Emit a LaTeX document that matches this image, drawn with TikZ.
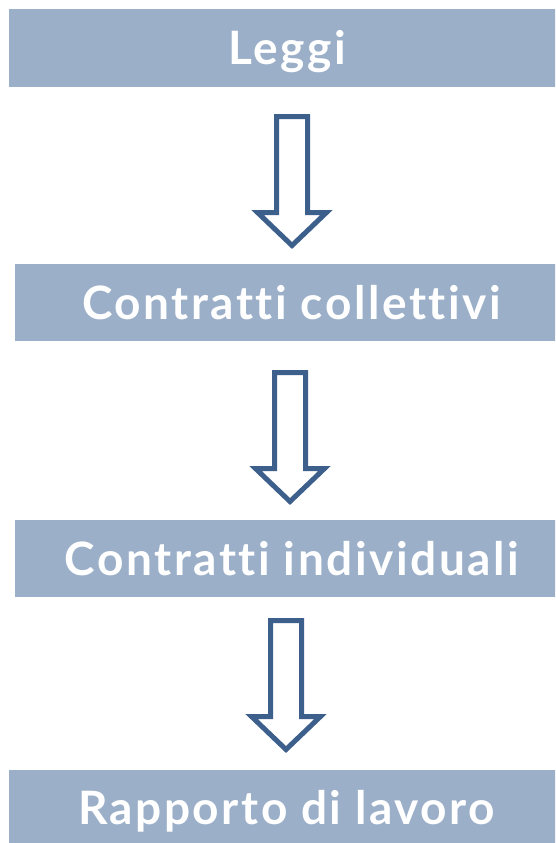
\documentclass[tikz,border=0pt]{standalone}
\usepackage{fontspec}
\setmainfont[Ligatures=NoCommon]{Lato}
\definecolor{boxblue}{RGB}{155,175,201}
\definecolor{arrowblue}{RGB}{60,95,140}
\tikzset{
  level/.style={fill=boxblue, text=white,
    font=\fontsize{46}{50}\selectfont\bfseries\addfontfeature{LetterSpace=5.5},
    inner sep=0pt, minimum height=77pt, text height=33pt, text depth=0pt},
  pics/downarrow/.style={code={
    \draw[arrowblue, line width=5pt, fill=white, line join=miter]
      (-15.5,0) -- (15.5,0) -- (15.5,96) -- (34.5,96) -- (0,129)
      -- (-34.5,96) -- (-15.5,96) -- cycle;
  }}
}
\begin{document}
\begin{tikzpicture}[x=1pt, y=-1pt]
  \useasboundingbox (0,0) rectangle (555,843);
  \clip (0,0) rectangle (555,843);
  \node[level, minimum width=556pt] (leggi) at (287,48) {Leggi};
  \node[level, minimum width=553pt] (collettivi) at (291.5,302.5) {Contratti collettivi};
  \node[level, minimum width=554pt] (individuali) at (292,558.5) {Contratti individuali};
  \node[level, minimum width=555pt] (rapporto) at (286.5,808) {Rapporto di lavoro};
  \pic at (292,116.5) {downarrow};
  \pic at (290,372.5) {downarrow};
  \pic at (286,620.5) {downarrow};
\end{tikzpicture}
\end{document}
